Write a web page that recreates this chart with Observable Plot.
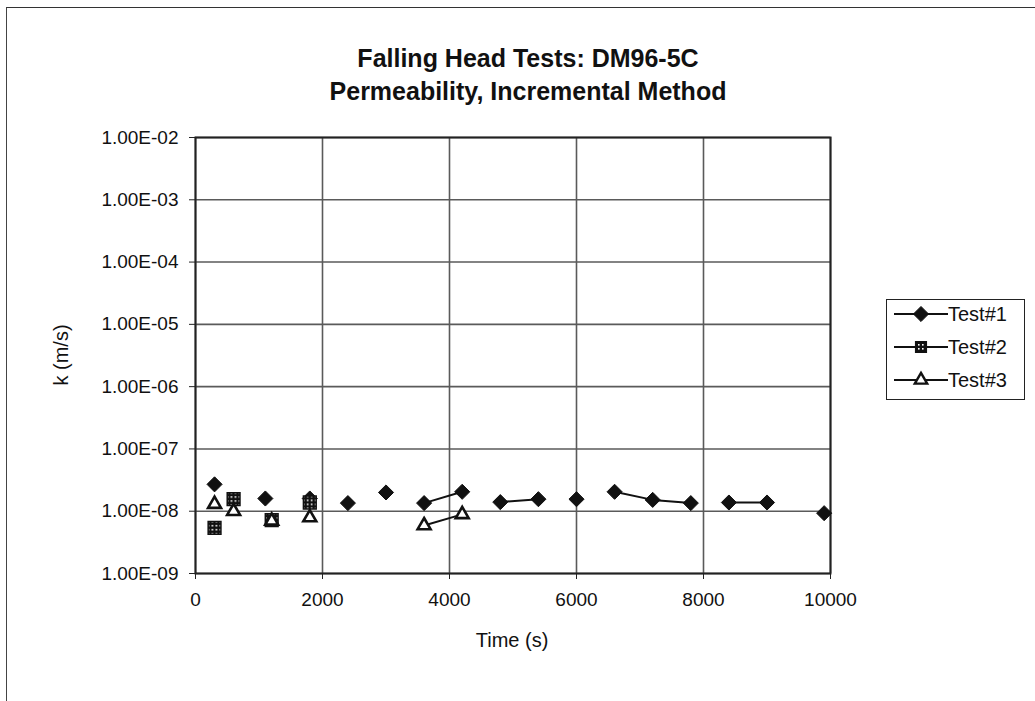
<!DOCTYPE html>
<html>
<head>
<meta charset="utf-8">
<script src="https://cdn.jsdelivr.net/npm/d3@7"></script>
<script src="https://cdn.jsdelivr.net/npm/@observablehq/plot@0.6"></script>
<style>
  body { margin: 0; background: #fff; }
  #wrap { position: relative; width: 1035px; height: 701px; overflow: hidden; background: #fff;
          font-family: "Liberation Sans", Arial, sans-serif; color: #111; }
  #wrap svg.plot { position: absolute; left: 0; top: 0; }
  .abs { position: absolute; white-space: nowrap; }
</style>
</head>
<body>
<div id="wrap"></div>
<script>
// ---- data ----
const titleLines = ["Falling Head Tests: DM96-5C", "Permeability, Incremental Method"];
const xLabel = "Time (s)";
const yLabel = "k (m/s)";
const seriesNames = ["Test#1", "Test#2", "Test#3"];
const xTicks = [0, 2000, 4000, 6000, 8000, 10000];
const yTicks = [1e-9, 1e-8, 1e-7, 1e-6, 1e-5, 1e-4, 1e-3, 1e-2];

const test1Time = [300, 1100, 1800, 2400, 3000, 3600, 4200, 4800, 5400, 6000, 6600, 7200, 7800, 8400, 9000, 9900];
const test1K    = [2.7e-8, 1.6e-8, 1.6e-8, 1.35e-8, 2.0e-8, 1.35e-8, 2.05e-8, 1.4e-8, 1.56e-8, 1.56e-8, 2.05e-8, 1.52e-8, 1.35e-8, 1.38e-8, 1.38e-8, 9.3e-9];
const test1Seg  = [1, 2, 3, 4, 5, 6, 6, 7, 7, 8, 9, 9, 9, 10, 10, 11];

const test2Time = [300, 600, 1200, 1800];
const test2K    = [5.4e-9, 1.56e-8, 7.2e-9, 1.38e-8];

const test3Time = [300, 600, 1200, 1800, 3600, 4200];
const test3K    = [1.3e-8, 1.0e-8, 7.0e-9, 7.9e-9, 5.9e-9, 8.9e-9];
const test3Seg  = [1, 2, 3, 4, 5, 5];

// ---- build tables ----
const t1 = test1Time.map((t, i) => ({time: t, k: test1K[i], seg: test1Seg[i], series: seriesNames[0]}));
const t2 = test2Time.map((t, i) => ({time: t, k: test2K[i], series: seriesNames[1]}));
const t3 = test3Time.map((t, i) => ({time: t, k: test3K[i], seg: test3Seg[i], series: seriesNames[2]}));

function sci(d) {
  const e = Math.round(Math.log10(d));
  const m = d / Math.pow(10, e);
  return m.toFixed(2) + "E" + (e < 0 ? "-" : "+") + String(Math.abs(e)).padStart(2, "0");
}

const FONT = "'Liberation Sans', Arial, sans-serif";
const wrap = document.getElementById("wrap");

// outer border (top and left)
const border = document.createElement("div");
border.className = "abs";
Object.assign(border.style, {left: "6px", top: "7px", width: "1100px", height: "800px",
  borderTop: "1.5px solid #333", borderLeft: "1.5px solid #444"});
wrap.appendChild(border);

const plot = Plot.plot({
  width: 1035,
  height: 701,
  marginLeft: 195,
  marginRight: 205,
  marginTop: 137,
  marginBottom: 128,
  style: {fontFamily: FONT, fontSize: "19px", background: "transparent", color: "#111", overflow: "visible"},
  x: {domain: [0, 10000], label: null},
  y: {type: "log", domain: [1e-9, 1e-2], label: null},
  marks: [
    Plot.gridY(yTicks, {stroke: "#5a5a5a", strokeOpacity: 1, strokeWidth: 1.6}),
    Plot.gridX(xTicks, {stroke: "#5a5a5a", strokeOpacity: 1, strokeWidth: 1.6}),
    Plot.frame({stroke: "#222", strokeWidth: 2}),
    Plot.axisY(yTicks, {tickFormat: sci, tickSize: 6, tickPadding: 11, fontSize: 19, stroke: "#222", label: null}),
    Plot.axisX(xTicks, {tickFormat: d => String(d), tickSize: 6, tickPadding: 13, fontSize: 19, stroke: "#222", label: null}),
    Plot.line(t1, {x: "time", y: "k", z: "seg", stroke: "#111", strokeWidth: 2}),
    Plot.line(t3, {x: "time", y: "k", z: "seg", stroke: "#111", strokeWidth: 2}),
    Plot.dot(t1, {x: "time", y: "k", symbol: "diamond2", r: 6.8, fill: "#111", stroke: "#111", strokeWidth: 1}),
    Plot.dot(t2, {x: "time", y: "k", symbol: "square", r: 7.2, fill: "url(#chk)", stroke: "#111", strokeWidth: 1.5}),
    Plot.dot(t3, {x: "time", y: "k", symbol: "triangle", r: 4.8, fill: "#fff", stroke: "#111", strokeWidth: 2.6})
  ]
});
plot.classList.add("plot");
// checker pattern for Test#2 squares
const defs = document.createElementNS("http://www.w3.org/2000/svg", "defs");
defs.innerHTML = '<pattern id="chk" width="4" height="4" patternUnits="userSpaceOnUse">' +
  '<rect width="4" height="4" fill="#111"/><rect x="1" y="1" width="1.6" height="1.6" fill="#fff"/></pattern>';
plot.insertBefore(defs, plot.firstChild);
wrap.appendChild(plot);

// title
const title = document.createElement("div");
title.className = "abs";
Object.assign(title.style, {left: "0px", width: "1056px", top: "42px", textAlign: "center",
  fontWeight: "bold", fontSize: "25px", lineHeight: "33px"});
title.innerHTML = titleLines.join("<br>");
wrap.appendChild(title);

// axis titles
const yt = document.createElement("div");
yt.className = "abs";
Object.assign(yt.style, {left: "61px", top: "355px", fontSize: "20px",
  transform: "translate(-50%, -50%) rotate(-90deg)"});
yt.textContent = yLabel;
wrap.appendChild(yt);

const xt = document.createElement("div");
xt.className = "abs";
Object.assign(xt.style, {left: "512px", top: "640px", fontSize: "20px", transform: "translate(-50%, -50%)"});
xt.textContent = xLabel;
wrap.appendChild(xt);

// legend
const leg = document.createElement("div");
leg.className = "abs";
Object.assign(leg.style, {left: "886px", top: "299px", width: "139px", height: "101px",
  border: "1.6px solid #222", boxSizing: "border-box", background: "#fff"});
wrap.appendChild(leg);
const symDefs = [
  {path: d3.symbol(d3.symbolDiamond2, Math.PI * 6.8 * 6.8)(), fill: "#111", sw: 1},
  {path: d3.symbol(d3.symbolSquare, Math.PI * 6.0 * 6.0)(), fill: "url(#chk2)", sw: 1.5},
  {path: d3.symbol(d3.symbolTriangle, Math.PI * 4.6 * 4.6)(), fill: "#fff", sw: 2.4}
];
seriesNames.forEach((name, i) => {
  const cy = 16 + i * 33;
  const s = document.createElementNS("http://www.w3.org/2000/svg", "svg");
  s.setAttribute("width", 62); s.setAttribute("height", 30);
  s.style.position = "absolute"; s.style.left = "4px"; s.style.top = (cy - 15 - 1.6) + "px";
  s.innerHTML = (i === 1 ? '<defs><pattern id="chk2" width="4" height="4" patternUnits="userSpaceOnUse">' +
    '<rect width="4" height="4" fill="#111"/><rect x="1" y="1" width="1.6" height="1.6" fill="#fff"/></pattern></defs>' : "") +
    '<line x1="3" x2="57" y1="15" y2="15" stroke="#111" stroke-width="2"/>' +
    `<path transform="translate(30,15)" d="${symDefs[i].path}" fill="${symDefs[i].fill}" stroke="#111" stroke-width="${symDefs[i].sw}"/>`;
  leg.appendChild(s);
  const t = document.createElement("div");
  t.className = "abs";
  Object.assign(t.style, {left: "61px", top: (cy - 1.6) + "px", fontSize: "20px", transform: "translateY(-50%)"});
  t.textContent = name;
  leg.appendChild(t);
});
</script>
</body>
</html>
